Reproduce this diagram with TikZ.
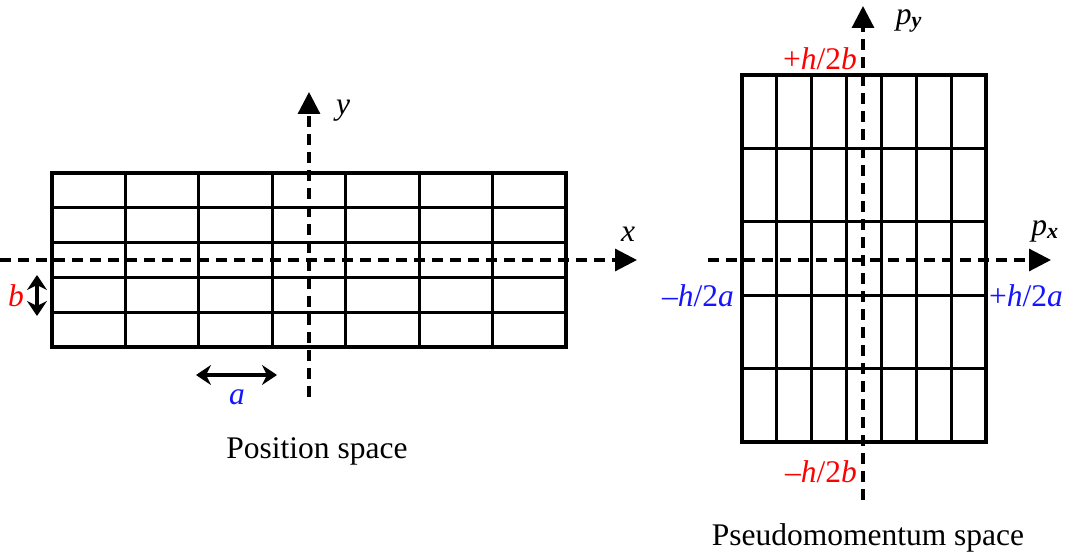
\documentclass[tikz,border=0pt]{standalone}
\usepackage{fontspec}
\setmainfont{Liberation Serif}
\usetikzlibrary{arrows.meta}
\definecolor{lblred}{RGB}{255,0,0}
\definecolor{lblblue}{RGB}{20,20,255}
\tikzset{
  gridline/.style={line width=3.2pt, line cap=rect},
  axisline/.style={line width=3.2pt, dash pattern=on 11pt off 7pt, -{Triangle[length=22pt,width=22pt]}},
  dimarrow/.style={line width=3.2pt, {Stealth[length=15pt,width=20pt,inset=5pt]}-{Stealth[length=15pt,width=20pt,inset=5pt]}},
  lbl/.style={font=\fontsize{31.5}{36}\selectfont, inner sep=0pt},
  caption/.style={font=\fontsize{31.5}{36}\selectfont, inner sep=0pt}
}
\begin{document}
\begin{tikzpicture}[x=1pt,y=-1pt]
\useasboundingbox (0,0) rectangle (1069,553);
% ---------- left grid (position space)
\foreach \c in {0,...,7} {
  \draw[gridline] ({52+\c*73.43},173) -- ({52+\c*73.43},347);
}
\foreach \r in {0,...,5} {
  \draw[gridline] (52,{173+\r*34.8}) -- (566,{173+\r*34.8});
}
% axes
\coordinate (xs) at (0,260);
\coordinate (xe) at (637,260);
\coordinate (ys) at (309,397);
\coordinate (ye) at (309,92);
\draw[axisline] (xs) -- (xe);
\draw[axisline] (ys) -- (ye);
\node[lbl, font=\fontsize{31.5}{36}\selectfont\itshape] (xl) at (628,234) {x};
\node[lbl, font=\fontsize{31.5}{36}\selectfont\itshape] (yl) at (343,111) {y};
% dimension arrows
\coordinate (bt) at (37,275);
\coordinate (bb) at (37,316);
\draw[dimarrow] (bt) -- (bb);
\node[lbl, text=lblred, font=\fontsize{31.5}{36}\selectfont\itshape] (bl) at (16,296) {b};
\coordinate (al) at (196,375);
\coordinate (ar) at (277,375);
\draw[dimarrow] (al) -- (ar);
\node[lbl, text=lblblue, font=\fontsize{31.5}{36}\selectfont\itshape] (alab) at (237,397) {a};
\node[caption] (pos) at (317,451) {Position space};
% ---------- right grid (pseudomomentum space)
\foreach \c in {0,...,7} {
  \draw[gridline] ({742+\c*34.86},75) -- ({742+\c*34.86},442);
}
\foreach \r in {0,...,5} {
  \draw[gridline] (742,{75+\r*73.4}) -- (986,{75+\r*73.4});
}
\coordinate (pxs) at (708,260);
\coordinate (pxe) at (1051,260);
\coordinate (pys) at (863,500);
\coordinate (pye) at (863,6);
\draw[axisline] (pxs) -- (pxe);
\draw[axisline] (pys) -- (pye);
\node[lbl] (pyl) at (909,21) {\textit{p}\textsubscript{\textbf{\textit{y}}}};
\node[lbl] (pxl) at (1045,231) {\textit{p}\textsubscript{\textbf{\textit{x}}}};
\node[lbl, text=lblred] (tp) at (820,59) {+\textit{h}/2\textit{b}};
\node[lbl, text=lblred] (tm) at (821,472) {–\textit{h}/2\textit{b}};
\node[lbl, text=lblblue] (lm) at (698,296) {–\textit{h}/2\textit{a}};
\node[lbl, text=lblblue] (rp) at (1026,296) {+\textit{h}/2\textit{a}};
\node[caption] (mom) at (868,538) {Pseudomomentum space};
\end{tikzpicture}
\end{document}
